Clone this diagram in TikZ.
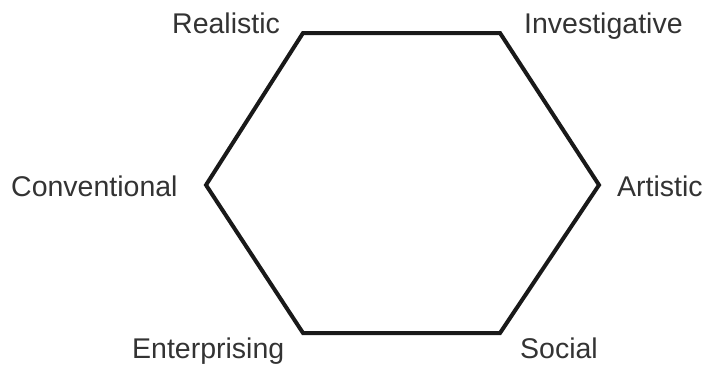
\documentclass[tikz,border=0pt]{standalone}
\usepackage{fontspec}
\setmainfont{Liberation Sans}
\begin{document}
\begin{tikzpicture}[x=1bp,y=-1bp,
  lbl/.style={anchor=base west,inner sep=0pt,font=\fontsize{28.5bp}{31bp}\selectfont,text=black!80},
  hex/.style={draw=black!90,line width=4bp,line join=miter}]
\useasboundingbox (0,0) rectangle (708,366);
\coordinate (R) at (303,33);
\coordinate (I) at (500,33);
\coordinate (A) at (599,185);
\coordinate (S) at (500,333);
\coordinate (E) at (303,333);
\coordinate (C) at (206,185);
\draw[hex] (R) -- (I) -- (A) -- (S) -- (E) -- (C) -- cycle;
\node[lbl] (lR) at (172,33) {Realistic};
\node[lbl] (lI) at (524,33) {Investigative};
\node[lbl] (lA) at (617,196) {Artistic};
\node[lbl] (lS) at (520,358) {Social};
\node[lbl] (lE) at (132,358) {Enterprising};
\node[lbl] (lC) at (11,196) {Conventional};
\end{tikzpicture}
\end{document}
